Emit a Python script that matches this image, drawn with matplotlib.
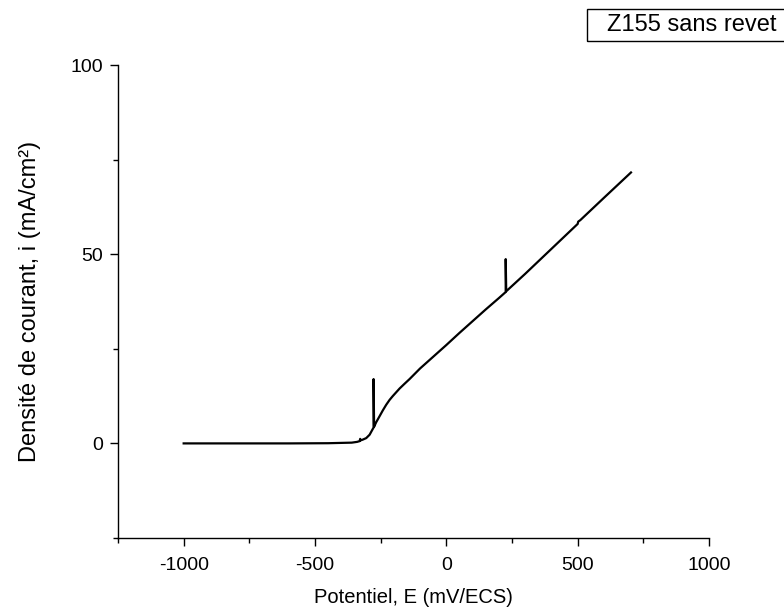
import numpy as np
import matplotlib
matplotlib.use("Agg")
import matplotlib.pyplot as plt
from matplotlib.patches import Rectangle
from matplotlib.ticker import MultipleLocator

plt.rcParams["font.family"] = ["Liberation Sans", "DejaVu Sans"]
plt.rcParams["axes.unicode_minus"] = False

# potentiel (mV/ECS) et densite de courant (mA/cm2)
E = [-1000, -800, -600, -450, -360, -340, -330, -328, -326, -318, -305, -292,
     -277, -277, -275, -267, -254, -242, -229, -216, -204, -191, -178,
     -160, -140, -120, -100, -50, 0, 50, 100, 150, 200, 226, 226, 228,
     300, 400, 500, 502, 510, 600, 703]
i = [0.0, 0.0, 0.0, 0.05, 0.2, 0.4, 0.6, 1.2, 0.8, 1.0, 1.4, 2.3,
     4.2, 17.0, 4.4, 5.6, 7.2, 8.7, 10.2, 11.5, 12.5, 13.5, 14.5,
     15.7, 17.0, 18.4, 19.8, 22.9, 26.0, 29.2, 32.3, 35.4, 38.4, 40.0, 48.7, 40.2,
     44.8, 51.4, 58.0, 58.6, 59.0, 64.9, 71.6]

x_ticks = [-1000, -500, 0, 500, 1000]
y_ticks = [0, 50, 100]

fig = plt.figure(figsize=(7.84, 6.14), dpi=100)
ax = fig.add_axes([118 / 784, 1 - 538 / 614, (709 - 118) / 784, (538 - 65) / 614])

ax.plot(E, i, color="black", lw=1.6)

ax.set_xlim(-1250, 1000)
ax.set_ylim(-25, 100)
ax.set_xticks(x_ticks)
ax.set_yticks(y_ticks)
ax.xaxis.set_minor_locator(MultipleLocator(250))
ax.yaxis.set_minor_locator(MultipleLocator(25))
ax.tick_params(which="major", direction="out", length=6, width=1.0, labelsize=14)
ax.tick_params(axis="x", which="major", pad=8)
ax.tick_params(axis="y", which="major", pad=5)
ax.tick_params(which="minor", direction="out", length=3.5, width=1.0)

for side in ["top", "right"]:
    ax.spines[side].set_visible(False)
for side in ["left", "bottom"]:
    ax.spines[side].set_linewidth(1.0)

ax.set_xlabel("Potentiel, E (mV/ECS)", fontsize=14.5, labelpad=10)
ax.set_ylabel("Densité de courant, i (mA/cm²)", fontsize=17, labelpad=21)

# cadre de legende en haut a droite
fig.patches.append(Rectangle((587 / 784, 1 - 41 / 614), 0.3, 32 / 614,
                             transform=fig.transFigure, fill=False,
                             edgecolor="black", lw=1.0))
fig.text(692 / 784, 1 - 25 / 614, "Z155 sans revet", fontsize=17,
         ha="center", va="center")

fig.savefig("out.png", dpi=100)
